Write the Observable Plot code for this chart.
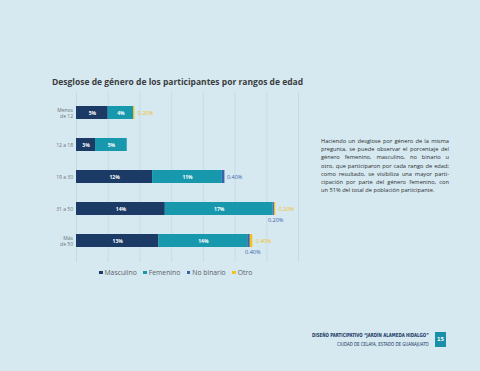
<!DOCTYPE html>
<html>
<head>
<meta charset="utf-8">
<script src="https://cdn.jsdelivr.net/npm/d3@7"></script>
<script src="https://cdn.jsdelivr.net/npm/@observablehq/plot@0.6"></script>
<style>
  html, body { margin: 0; padding: 0; background: #d7e9f0; }
  #page { position: relative; width: 480px; height: 371px; overflow: hidden; background: #d7e9f0; font-family: "Open Sans", sans-serif; }
  #chart { position: absolute; left: 0; top: 0; }
  .title { position: absolute; left: 52px; top: 76px; font-size: 8.5px; font-weight: 700; color: #3a3d40; white-space: nowrap; }
  .para { position: absolute; left: 321px; top: 137px; width: 128px; font-size: 5.7px; line-height: 8.2px; color: #2a2e31; }
  .para div { text-align: justify; text-align-last: justify; white-space: nowrap; }
  .para div.last { text-align-last: left; }
  .legend { position: absolute; left: 99px; top: 268px; font-size: 6.8px; color: #5a6066; white-space: nowrap; }
  .legend span.sw { display: inline-block; width: 3.5px; height: 3.5px; margin-right: 2px; vertical-align: 1px; }
  .legend span.item { margin-right: 6.5px; }
  .foot1, .foot2 { position: absolute; right: 51px; font-family: "DejaVu Sans Condensed", "DejaVu Sans", sans-serif; font-weight: 700; color: #1b3a66; white-space: nowrap; transform-origin: right center; }
  .foot1 { top: 331.5px; font-size: 5.6px; transform: scaleX(0.78); }
  .foot2 { top: 341px; font-size: 5.4px; font-weight: 400; transform: scaleX(0.82); }
  .pg { position: absolute; left: 435px; top: 332px; width: 11px; height: 15px; background: #1a8fa8; color: #fff; font-family: "DejaVu Sans Condensed", sans-serif; font-weight: 700; font-size: 5.5px; text-align: center; line-height: 15px; }
</style>
</head>
<body>
<div id="page">
  <div id="chart"></div>
  <div class="title">Desglose de género de los participantes por rangos de edad</div>
  <div class="para" id="para"></div>
  <div class="legend" id="legend"></div>
  <div class="foot1">DISEÑO PARTICIPATIVO “JARDÍN ALAMEDA HIDALGO”</div>
  <div class="foot2">CIUDAD DE CELAYA, ESTADO DE GUANAJUATO</div>
  <div class="pg">15</div>
</div>
<script>
// ---- data ----
const ages = ["Menos de 12", "12 a 18", "19 a 30", "31 a 50", "Más de 50"];
const ageLabels = ["Menos\nde 12", "12 a 18", "19 a 30", "31 a 50", "Más\nde 50"];
const genders = ["Masculino", "Femenino", "No binario", "Otro"];
const colors = ["#1b3a66", "#1798ad", "#3b63ad", "#f3c21c"];
const masculino = [5, 3, 12, 14, 13];
const femenino = [4, 5, 11, 17, 14];
const noBinario = [0, 0, 0.4, 0.2, 0.4];
const otro = [0.2, 0, 0, 0.2, 0.4];
const gridTicks = [0, 5, 10, 15, 20, 25, 30, 35];
const paraLines = [
  "Haciendo un desglose por género de la misma",
  "pregunta, se puede observar el porcentaje del",
  "género femenino, masculino, no binario u",
  "otro, que participaron por cada rango de edad;",
  "como resultado, se visibiliza una mayor parti-",
  "cipación por parte del género femenino, con",
  "un 51% del total de población participante."
];

// ---- build table ----
const series = [masculino, femenino, noBinario, otro];
const rows = [];
ages.forEach((age, i) => {
  let acc = 0;
  series.forEach((s, g) => {
    const v = s[i];
    if (v > 0) rows.push({age, gender: genders[g], value: v, x1: acc, x2: acc + v});
    acc += v;
  });
});
const totals = ages.map((age, i) => ({age, total: series.reduce((a, s) => a + s[i], 0)}));
const big = rows.filter(d => d.gender === "Masculino" || d.gender === "Femenino");
const fmt = v => v.toFixed(2) + "%";
const otroLabels = ages.map((age, i) => ({age, v: otro[i], x: totals[i].total})).filter(d => d.v > 0);
const nbRight = ages.map((age, i) => ({age, v: noBinario[i], o: otro[i], x: totals[i].total})).filter(d => d.v > 0 && d.o === 0);
const nbBelow = ages.map((age, i) => ({age, v: noBinario[i], o: otro[i], x: totals[i].total})).filter(d => d.v > 0 && d.o > 0);

const chart = Plot.plot({
  width: 480,
  height: 371,
  marginLeft: 76,
  marginRight: 182,
  marginTop: 92,
  marginBottom: 109,
  style: {background: "transparent", fontFamily: "Open Sans, sans-serif"},
  x: {domain: [0, 35], axis: null},
  y: {domain: ages, paddingInner: 0.59, paddingOuter: 0.4, label: null},
  color: {domain: genders, range: colors},
  marks: [
    Plot.ruleX(gridTicks, {stroke: "#c2d5dd", strokeWidth: 0.7}),
    Plot.axisY({tickSize: 0, tickPadding: 3.5, fontSize: 5, fill: "#6b7278", tickFormat: d => ageLabels[ages.indexOf(d)], lineHeight: 1.2}),
    Plot.barX(rows, {x1: "x1", x2: "x2", y: "age", fill: "gender"}),
    Plot.text(big, {x: d => (d.x1 + d.x2) / 2, y: "age", text: d => d.value + "%", fill: "white", fontSize: 5, fontWeight: 700}),
    Plot.text(otroLabels, {x: "x", y: "age", text: d => fmt(d.v), fill: "#f0bd1a", fontSize: 5.5, textAnchor: "start", dx: 3}),
    Plot.text(nbRight, {x: "x", y: "age", text: d => fmt(d.v), fill: "#3b63ad", fontSize: 5.5, textAnchor: "start", dx: 2}),
    Plot.text(nbBelow, {x: "x", y: "age", text: d => fmt(d.v), fill: "#3b63ad", fontSize: 5.5, textAnchor: "middle", dy: 11})
  ]
});
document.getElementById("chart").appendChild(chart);

const para = document.getElementById("para");
paraLines.forEach((l, i) => {
  const d = document.createElement("div");
  d.textContent = l;
  if (i === paraLines.length - 1) d.className = "last";
  para.appendChild(d);
});
const legend = document.getElementById("legend");
genders.forEach((g, i) => {
  const it = document.createElement("span");
  it.className = "item";
  const sw = document.createElement("span");
  sw.className = "sw";
  sw.style.background = colors[i];
  it.appendChild(sw);
  it.appendChild(document.createTextNode(g));
  legend.appendChild(it);
});
</script>
</body>
</html>
